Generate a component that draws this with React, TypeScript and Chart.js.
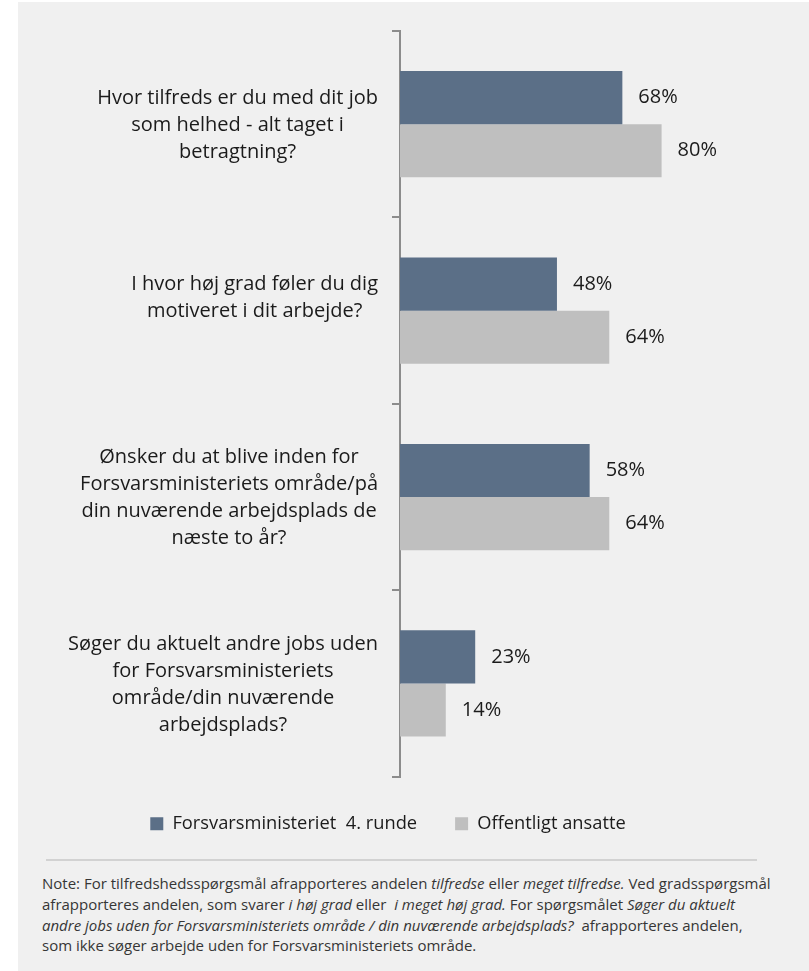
import React, { useEffect, useRef } from "react";
import { Chart, registerables } from "chart.js";

Chart.register(...registerables);

// ---- data ----
const categoryLines: string[][] = [
  ["Hvor tilfreds er du med dit job", "som helhed - alt taget i", "betragtning?"],
  ["I hvor høj grad føler du dig", "motiveret i dit arbejde?", ""],
  ["Ønsker du at blive inden for", "Forsvarsministeriets område/på", "din nuværende arbejdsplads de", "næste to år?"],
  ["Søger du aktuelt andre jobs uden", "for Forsvarsministeriets", "område/din nuværende", "arbejdsplads?"],
];
const seriesNames = ["Forsvarsministeriet  4. runde", "Offentligt ansatte"];
const forsvarValues = [68, 48, 58, 23];
const offentligValues = [80, 64, 64, 14];
const xMin = 0;
const xMax = 100;

// ---- style ----
const FONT = '"Open Sans", "Noto Sans", sans-serif';
const TEXT = "#1b1b1b";
const DARK = "#5b6f87";
const LIGHT = "#bfbfbf";
const AXIS = "#8c8c8c";
const BG = "#f0f0f0";
const LABEL_SIZE = 20;
const LINE_H = 27;
const LABEL_GAP = 22;

const yLabelPlugin = {
  id: "yLabelBlocks",
  afterDraw(chart: any) {
    const { ctx, chartArea } = chart;
    const yScale = chart.scales.y;
    ctx.save();
    ctx.font = `${LABEL_SIZE}px ${FONT}`;
    ctx.fillStyle = TEXT;
    ctx.textAlign = "center";
    ctx.textBaseline = "middle";
    categoryLines.forEach((lines, i) => {
      const cy = yScale.getPixelForValue(i) + 1;
      const widest = Math.max(...lines.map((l) => ctx.measureText(l).width));
      const cx = chartArea.left - LABEL_GAP - widest / 2;
      const start = cy - ((lines.length - 1) * LINE_H) / 2;
      lines.forEach((l, j) => ctx.fillText(l, cx, start + j * LINE_H));
    });
    ctx.restore();
  },
};

const valueLabelPlugin = {
  id: "valueLabels",
  afterDatasetsDraw(chart: any) {
    const { ctx } = chart;
    ctx.save();
    ctx.font = `${LABEL_SIZE}px ${FONT}`;
    ctx.fillStyle = TEXT;
    ctx.textAlign = "left";
    ctx.textBaseline = "middle";
    chart.data.datasets.forEach((ds: any, di: number) => {
      const meta = chart.getDatasetMeta(di);
      meta.data.forEach((bar: any, i: number) => {
        ctx.fillText(`${ds.data[i]}%`, bar.x + 16, bar.y);
      });
    });
    ctx.restore();
  },
};

export default function App() {
  const canvasRef = useRef<HTMLCanvasElement | null>(null);

  useEffect(() => {
    if (!canvasRef.current) return;
    const chart = new Chart(canvasRef.current, {
      type: "bar",
      data: {
        labels: categoryLines.map((l) => l.join(" ").trim()),
        datasets: [
          {
            label: seriesNames[0],
            data: forsvarValues,
            backgroundColor: DARK,
            categoryPercentage: 0.57,
            barPercentage: 1.0,
          },
          {
            label: seriesNames[1],
            data: offentligValues,
            backgroundColor: LIGHT,
            categoryPercentage: 0.57,
            barPercentage: 1.0,
          },
        ],
      },
      options: {
        indexAxis: "y",
        animation: false,
        responsive: false,
        maintainAspectRatio: false,
        devicePixelRatio: 1,
        layout: { padding: { top: 29, left: 31, right: 31, bottom: 0 } },
        scales: {
          x: { display: false, min: xMin, max: xMax },
          y: {
            type: "category",
            offset: true,
            grid: {
              display: true,
              drawOnChartArea: false,
              drawTicks: true,
              tickLength: 8,
              color: AXIS,
              lineWidth: 2,
              offset: true,
            },
            border: { display: true, color: AXIS, width: 2 },
            ticks: { display: false },
            afterFit: (s: any) => {
              s.width = 351;
            },
          },
        },
        plugins: {
          legend: {
            display: true,
            position: "bottom",
            labels: {
              boxWidth: 13,
              boxHeight: 13,
              padding: 38,
              color: TEXT,
              font: { family: FONT, size: 18.3 },
            },
          },
          tooltip: { enabled: false },
        },
      },
      plugins: [yLabelPlugin, valueLabelPlugin],
    });
    return () => chart.destroy();
  }, []);

  return (
    <div
      style={{
        position: "absolute",
        left: 18,
        top: 2,
        width: 791,
        height: 969,
        background: BG,
        fontFamily: FONT,
        overflow: "hidden",
      }}
    >
      <canvas
        ref={canvasRef}
        width={740}
        height={841}
        style={{ position: "absolute", left: 0, top: 0, width: 740, height: 841 }}
      />
      <div
        style={{
          position: "absolute",
          left: 28,
          top: 857,
          width: 711,
          height: 2,
          background: "#d2d2d2",
        }}
      />
      <div
        style={{
          position: "absolute",
          left: 24,
          top: 871,
          fontSize: 15,
          lineHeight: "20.8px",
          color: "#363636",
          whiteSpace: "nowrap",
        }}
      >
        Note: For tilfredshedsspørgsmål afrapporteres andelen <i>tilfredse</i> eller <i>meget tilfredse.</i> Ved gradsspørgsmål
        <br />
        afrapporteres andelen, som svarer <i>i høj grad</i> eller&nbsp; <i>i meget høj grad.</i> For spørgsmålet <i>Søger du aktuelt</i>
        <br />
        <i>andre jobs uden for Forsvarsministeriets område / din nuværende arbejdsplads?</i>&nbsp; afrapporteres andelen,
        <br />
        som ikke søger arbejde uden for Forsvarsministeriets område.
      </div>
    </div>
  );
}
